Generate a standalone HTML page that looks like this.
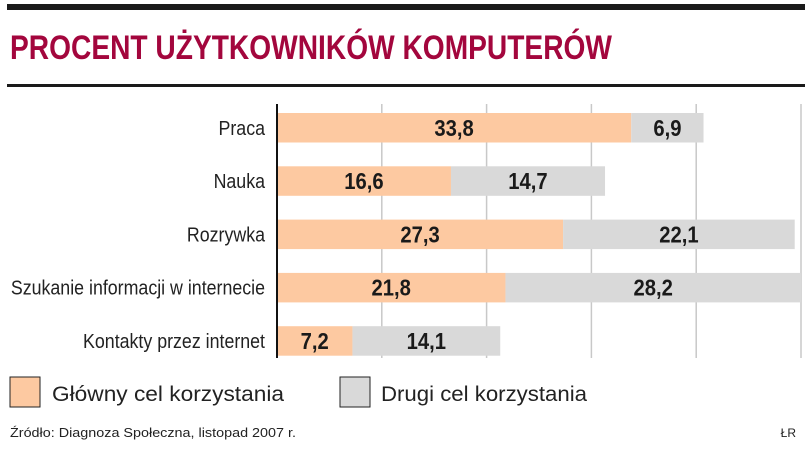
<!DOCTYPE html>
<html><head><meta charset="utf-8"><style>
html,body{margin:0;padding:0;background:#fff}
svg{display:block}
text{font-family:"Liberation Sans",sans-serif}
</style></head><body>
<svg id="chart" width="805" height="451" viewBox="0 0 805 451">
<rect x="7" y="4" width="798" height="6" fill="#1a1a1a"/>
<text x="10" y="59" font-size="34" font-weight="bold" fill="#a3063d" textLength="602" lengthAdjust="spacingAndGlyphs">PROCENT UŻYTKOWNIKÓW KOMPUTERÓW</text>
<rect x="7" y="84" width="798" height="3" fill="#1a1a1a"/>
<g id="grid"></g>
<g id="bars"></g>
<line x1="277" y1="104" x2="277" y2="358" stroke="#111" stroke-width="2"/>
<rect x="10" y="377" width="30" height="30" fill="#fdc9a1" stroke="#222" stroke-width="1"/>
<text x="52" y="401" font-size="21" fill="#222" textLength="232" lengthAdjust="spacingAndGlyphs">Główny cel korzystania</text>
<rect x="340" y="377" width="30" height="30" fill="#d9d9d9" stroke="#222" stroke-width="1"/>
<text x="381" y="401" font-size="21" fill="#222" textLength="206" lengthAdjust="spacingAndGlyphs">Drugi cel korzystania</text>
<text x="10" y="437" font-size="13" fill="#222" textLength="286" lengthAdjust="spacingAndGlyphs">Źródło: Diagnoza Społeczna, listopad 2007 r.</text>
<text x="796" y="437" font-size="12" fill="#222" text-anchor="end">ŁR</text>
</svg>
<script>
const categories=["Praca","Nauka","Rozrywka","Szukanie informacji w internecie","Kontakty przez internet"];
const primaryValues=[33.8,16.6,27.3,21.8,7.2];
const secondaryValues=[6.9,14.7,22.1,28.2,14.1];
const gridTicks=[10,20,30,40,50];
const primaryLabels=["33,8","16,6","27,3","21,8","7,2"];
const secondaryLabels=["6,9","14,7","22,1","28,2","14,1"];
const NS="http://www.w3.org/2000/svg";
const x0=277,scale=10.48;
function xs(v){return x0+v*scale;}
function yBand(i){return 113+i*53.3;}
const bh=29.5;
function mk(tag,attrs,parent){const e=document.createElementNS(NS,tag);for(const k in attrs)e.setAttribute(k,attrs[k]);parent.appendChild(e);return e;}
const grid=document.getElementById('grid'),bars=document.getElementById('bars');
gridTicks.forEach(t=>{
  const l=mk('line',{x1:xs(t),x2:xs(t),y1:104,y2:358,stroke:'#c8c8c8','stroke-width':1.5},grid);
  
  
});
function condensed(cx,cy,k,parent){return mk('g',{transform:'translate('+cx+','+cy+') scale('+k+',1)'},parent);}
categories.forEach((c,i)=>{
  const y=yBand(i);
  const g=condensed(265,y+bh/2+7,0.89,bars);
  const lab=mk('text',{x:0,y:0,'font-size':20,fill:'#222','text-anchor':'end'},g);
  lab.textContent=c;
  
  
  const p=primaryValues[i],s=secondaryValues[i];
  const r1=mk('rect',{x:xs(0),y:y,width:xs(p)-xs(0),height:bh,fill:'#fdc9a1'},bars);
  
  
  const r2=mk('rect',{x:xs(p),y:y,width:xs(p+s)-xs(p),height:bh,fill:'#d9d9d9'},bars);
  
  
  const g1=condensed((xs(0)+xs(p))/2,y+bh/2+8,0.88,bars);
  const t1=mk('text',{x:0,y:0,'font-size':23,'font-weight':'bold',fill:'#1a1a1a','text-anchor':'middle'},g1);
  t1.textContent=primaryLabels[i];
  
  
  const g2=condensed((xs(p)+xs(p+s))/2,y+bh/2+8,0.88,bars);
  const t2=mk('text',{x:0,y:0,'font-size':23,'font-weight':'bold',fill:'#1a1a1a','text-anchor':'middle'},g2);
  t2.textContent=secondaryLabels[i];
  
  
});
</script>
</body></html>
